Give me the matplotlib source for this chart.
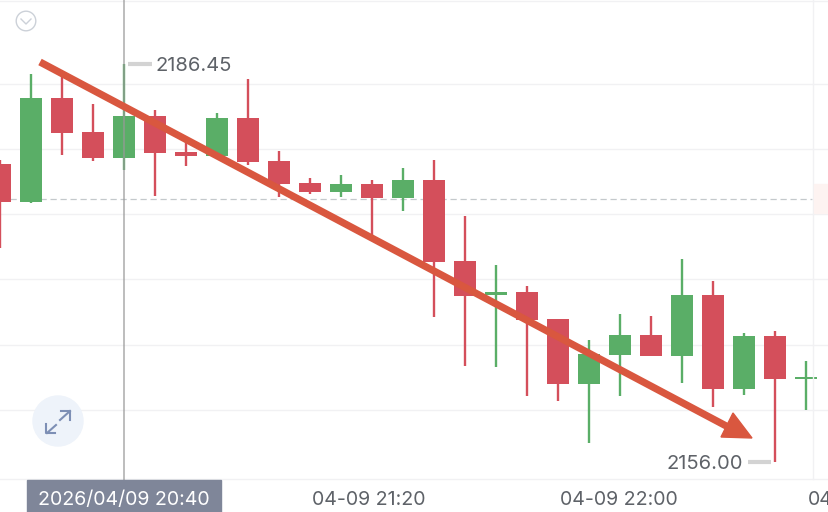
import matplotlib
matplotlib.use("Agg")
import matplotlib.pyplot as plt
from matplotlib.patches import Circle, Polygon, Rectangle

plt.rcParams['font.family'] = ['Inter', 'DejaVu Sans']

# candles, left to right
opens = [2178.80, 2175.89, 2183.85, 2181.25, 2179.26, 2182.47, 2179.72, 2179.41, 2182.32, 2179.03, 2177.35,
         2176.66, 2177.27, 2176.20, 2177.57, 2171.38, 2168.78, 2169.01, 2166.94, 2161.97, 2164.19, 2165.72,
         2164.11, 2168.78, 2161.58, 2165.64, 2162.35]
closes = [2175.89, 2183.85, 2181.17, 2179.26, 2182.47, 2179.64, 2179.41, 2182.32, 2178.95, 2177.27, 2176.66,
          2177.27, 2176.20, 2177.57, 2171.30, 2168.70, 2169.01, 2166.86, 2161.97, 2164.26, 2165.72, 2164.11,
          2168.78, 2161.58, 2165.64, 2162.35, 2162.50]
highs = [2179.10, 2185.68, 2185.53, 2183.39, 2186.45, 2182.93, 2180.64, 2182.70, 2185.30, 2179.79, 2177.73,
         2177.96, 2177.57, 2178.49, 2179.10, 2174.82, 2171.07, 2169.46, 2166.94, 2165.33, 2167.32, 2167.17,
         2171.53, 2169.85, 2165.87, 2166.02, 2163.73]
lows = [2172.37, 2175.82, 2179.49, 2179.03, 2178.34, 2176.35, 2178.65, 2179.41, 2178.72, 2176.27, 2176.50,
        2176.27, 2173.37, 2175.20, 2167.09, 2163.34, 2163.27, 2161.05, 2160.67, 2157.45, 2161.05, 2164.11,
        2162.04, 2160.21, 2161.12, 2156.00, 2159.98]
up_color = [c > o for o, c in zip(opens, closes)]

grid_prices = [2191.30, 2184.92, 2179.95, 2174.97, 2170.00, 2164.95, 2159.98, 2154.70]
last_price = 2176.12
high_label = "2186.45"
low_label = "2156.00"
time_labels = ["04-09 21:20", "04-09 22:00", "04"]

GREEN = "#5aae67"
RED = "#d44f5b"
ARROW = "#d9573f"
TEXT = "#5e6268"

fig = plt.figure(figsize=(8.29, 5.12), dpi=100)
ax = fig.add_axes([0, 0, 1, 1])
ax.set_xlim(0, 829 / 31)
ax.set_ylim(2152.17, 2191.35)
ax.axis("off")

for p in grid_prices:
    ax.axhline(p, color="#f1f1f3", lw=1, zorder=1)
ax.hlines(last_price, 0, 812 / 31, color="#c4c9cc", lw=0.9, ls=(0, (5, 3)), zorder=1)

for i in range(len(opens)):
    col = GREEN if up_color[i] else RED
    ax.vlines(i, lows[i], highs[i], color=col, lw=1.7, zorder=3)
    ax.bar(i, abs(closes[i] - opens[i]), bottom=min(opens[i], closes[i]), width=0.68, color=col, zorder=3)

# min/max markers
ax.hlines(2186.45, 4.13, 4.9, color="#d3d3d3", lw=3, zorder=4)
ax.text(5.03, 2186.45, high_label, color=TEXT, fontsize=14.5, va="center_baseline", ha="left", zorder=5)
ax.hlines(2156.00, 24.14, 24.87, color="#d3d3d3", lw=3, zorder=4)
ax.text(23.97, 2156.00, low_label, color=TEXT, fontsize=14.5, va="center_baseline", ha="right", zorder=5)

# everything else on a pixel overlay
ov = fig.add_axes([0, 0, 1, 1], facecolor="none")
ov.set_xlim(0, 829)
ov.set_ylim(512, 0)
ov.axis("off")

# see-through so the candle under it still shows
ov.plot([124, 124], [0, 480], color="#999999", alpha=0.65, lw=1.4, zorder=2)
ov.plot([813, 813], [0, 479], color="#f1f1f3", lw=1, zorder=1)
ov.add_patch(Rectangle((814, 184), 15, 29, color="#fdf3f1", zorder=1))

# hand drawn arrow
ov.plot([40, 730], [62, 428], color=ARROW, lw=5.2, solid_capstyle="butt", zorder=6)
ov.add_patch(Polygon([(733, 413), (721, 437), (752, 438)], color=ARROW, zorder=6))

# collapse button
ov.add_patch(Circle((26, 21), 9.8, fc="white", ec="#ccd1d8", lw=1, zorder=5))
ov.plot([21, 26, 31], [19, 24, 19], color="#ccd1d8", lw=1, zorder=5)

# expand button
ov.add_patch(Circle((58, 421), 25, color="#eef3fa", zorder=5))
ov.plot([60, 70], [420, 411], color="#7d8fb5", lw=1.5, zorder=6)
ov.plot([61, 70, 70], [411, 411, 420], color="#7d8fb5", lw=1.5, zorder=6)
ov.plot([47, 56], [433, 425], color="#7d8fb5", lw=1.5, zorder=6)
ov.plot([46, 46, 55], [424, 433, 433], color="#7d8fb5", lw=1.5, zorder=6)

# time axis
ov.add_patch(Rectangle((27, 480), 194, 32, color="#7f8699", zorder=5))
ov.text(124, 498, "2026/04/09 20:40", color="white", fontsize=14.1, ha="center", va="center_baseline", zorder=6)
ov.text(369, 498, time_labels[0], color=TEXT, fontsize=14.1, ha="center", va="center_baseline")
ov.text(619, 498, time_labels[1], color=TEXT, fontsize=14.1, ha="center", va="center_baseline")
ov.text(808, 498, time_labels[2], color=TEXT, fontsize=14.1, ha="left", va="center_baseline")

fig.savefig("out.png", dpi=100)
